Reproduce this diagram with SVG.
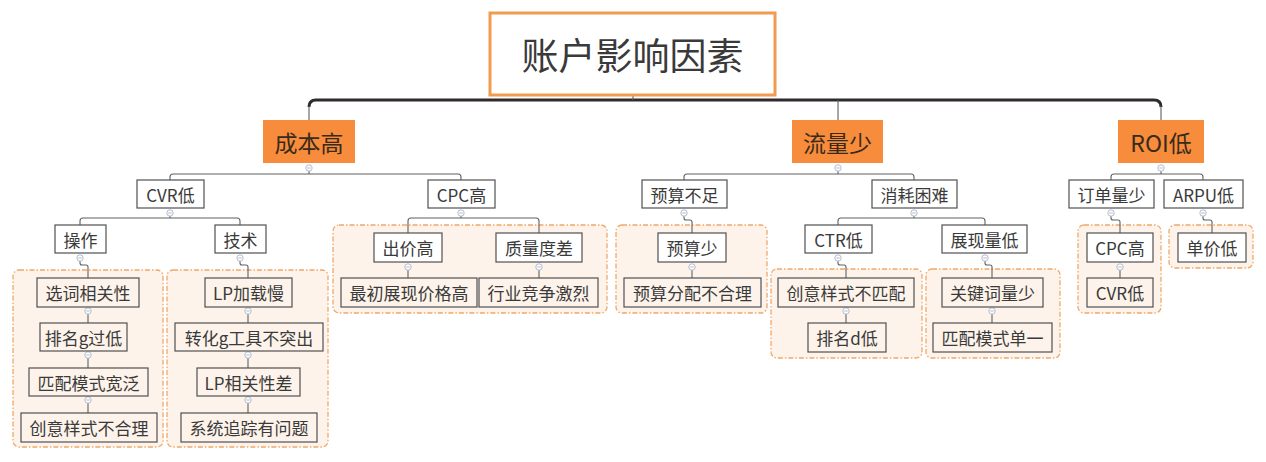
<svg xmlns="http://www.w3.org/2000/svg" width="1266" height="462" viewBox="0 0 1266 462">
<style>
text{font-family:"Noto Sans CJK SC","Noto Sans",sans-serif;fill:#3a3a3a;text-anchor:middle;dominant-baseline:central}
.n rect{fill:#fff;stroke:#505050;stroke-width:1.2}
.gn rect{fill:#fdf3ea;stroke:#505050;stroke-width:1.2}
.n text,.gn text{font-size:17px}
.l1 rect{fill:#f68c3c;stroke:none}
.l1 text{font-size:23px;fill:#3a2a1a}
.grp{fill:#fdf3ea;stroke:#f0a868;stroke-width:1.3;stroke-dasharray:5 2 1.5 2}
.c{fill:none;stroke:#606060;stroke-width:1.1;stroke-linejoin:round}
.cc{fill:#fff;stroke:#a9b3c8;stroke-width:0.9}
.cm{stroke:#a9b3c8;stroke-width:0.9}
</style>
<defs>
<g id="col"><circle class="cc" r="3.2"/><line class="cm" x1="-1.8" y1="0" x2="1.8" y2="0"/></g>
</defs>
<g id="groups">
<rect class="grp" x="13" y="270" width="150" height="177" rx="6"/>
<rect class="grp" x="167" y="270" width="161" height="177" rx="6"/>
<rect class="grp" x="333" y="225" width="274" height="88" rx="6"/>
<rect class="grp" x="616" y="225" width="151" height="88" rx="6"/>
<rect class="grp" x="771" y="269" width="151" height="89" rx="6"/>
<rect class="grp" x="926" y="269" width="134" height="89" rx="6"/>
<rect class="grp" x="1078" y="225" width="83" height="88" rx="6"/>
<rect class="grp" x="1169" y="225" width="84" height="43" rx="6"/>
</g>
<g id="connectors">
<path d="M309 107 Q309 100 316 100 H1154 Q1161 100 1161 107" fill="none" stroke="#2e2a2e" stroke-width="3"/>
<path class="c" d="M633 95 V100 M309 106 V120 M838 100 V120 M1161 106 V120"/>
<path class="c" d="M309 171 V174 M170 180 V177 Q170 174 173 174 H458 Q461 174 461 177 V180"/>
<path class="c" d="M170 216 V218 M80 225 V221 Q80 218 83 218 H237 Q240 218 240 221 V225"/>
<path class="c" d="M80 261 V263 Q80 265 82 265 H86 Q88 265 88 267 V278"/>
<path class="c" d="M240 261 V263 Q240 265 242 265 H246 Q248 265 248 267 V278"/>
<path class="c" d="M88 314 V323 M88 354 V368 M88 399 V413"/>
<path class="c" d="M248 314 V323 M248 354 V368 M248 399 V413"/>
<path class="c" d="M461 216 V218 M408 233 V221 Q408 218 411 218 H536 Q539 218 539 221 V233"/>
<path class="c" d="M408 270 V278 M539 270 V278"/>
<path class="c" d="M838 171 V174 M684 180 V177 Q684 174 687 174 H911 Q914 174 914 177 V180"/>
<path class="c" d="M684 216 V218 Q684 220 686 220 H690 Q692 220 692 222 V233"/>
<path class="c" d="M692 270 V278"/>
<path class="c" d="M914 216 V218 M838 225 V221 Q838 218 841 218 H982 Q985 218 985 221 V225"/>
<path class="c" d="M838 261 V263 Q838 265 840 265 H844 Q846 265 846 267 V278"/>
<path class="c" d="M846 314 V323"/>
<path class="c" d="M985 261 V263 Q985 265 987 265 H990 Q992 265 992 267 V278"/>
<path class="c" d="M992 314 V323"/>
<path class="c" d="M1161 171 V174 M1111 180 V177 Q1111 174 1114 174 H1200 Q1203 174 1203 177 V180"/>
<path class="c" d="M1111 216 V218 Q1111 220 1113 220 H1118 Q1120 220 1120 222 V233"/>
<path class="c" d="M1120 270 V278"/>
<path class="c" d="M1203 216 V218 Q1203 220 1205 220 H1210 Q1212 220 1212 222 V233"/>
<use href="#col" x="309" y="168"/><use href="#col" x="838" y="168"/><use href="#col" x="1161" y="168"/>
<use href="#col" x="170" y="213"/><use href="#col" x="461" y="213"/><use href="#col" x="684" y="213"/><use href="#col" x="914" y="213"/><use href="#col" x="1111" y="213"/><use href="#col" x="1203" y="213"/>
<use href="#col" x="80" y="258"/><use href="#col" x="240" y="258"/><use href="#col" x="838" y="258"/><use href="#col" x="985" y="258"/>
<use href="#col" x="408" y="267"/><use href="#col" x="539" y="267"/><use href="#col" x="692" y="267"/><use href="#col" x="1120" y="267"/>
<use href="#col" x="88" y="311"/><use href="#col" x="88" y="355"/><use href="#col" x="88" y="400"/>
<use href="#col" x="248" y="311"/><use href="#col" x="248" y="355"/><use href="#col" x="248" y="400"/>
<use href="#col" x="846" y="311"/><use href="#col" x="992" y="311"/>
</g>
<g id="root"><rect x="490" y="13" width="285" height="82" fill="#fff" stroke="#f29a4e" stroke-width="3"/><text x="632.5" y="54" font-size="37">账户影响因素</text></g>
<g id="n-chengben" class="l1"><rect x="263" y="120" width="92" height="43"/><text x="309" y="141.5">成本高</text></g>
<g id="n-liuliang" class="l1"><rect x="792" y="120" width="91" height="43"/><text x="837.5" y="141.5">流量少</text></g>
<g id="n-roi" class="l1"><rect x="1118" y="120" width="86" height="43"/><text x="1161" y="141.5">ROI低</text></g>
<g id="n-cvr" class="n"><rect x="137" y="180" width="67" height="28"/><text x="170.5" y="194">CVR低</text></g>
<g id="n-cpc" class="n"><rect x="428" y="180" width="67" height="28"/><text x="461.5" y="194">CPC高</text></g>
<g id="n-yusuanbuzu" class="n"><rect x="642" y="180" width="85" height="28"/><text x="684.5" y="194">预算不足</text></g>
<g id="n-xiaohao" class="n"><rect x="872" y="180" width="85" height="28"/><text x="914.5" y="194">消耗困难</text></g>
<g id="n-dingdan" class="n"><rect x="1069" y="180" width="85" height="28"/><text x="1111.5" y="194">订单量少</text></g>
<g id="n-arpu" class="n"><rect x="1164" y="180" width="79" height="28"/><text x="1203.5" y="194">ARPU低</text></g>
<g id="n-caozuo" class="n"><rect x="55" y="225" width="51" height="28"/><text x="80.5" y="239">操作</text></g>
<g id="n-jishu" class="n"><rect x="215" y="225" width="51" height="28"/><text x="240.5" y="239">技术</text></g>
<g id="n-chujia" class="n"><rect x="374" y="233" width="68" height="29"/><text x="408" y="247.5">出价高</text></g>
<g id="n-zhiliang" class="n"><rect x="496" y="233" width="86" height="29"/><text x="539" y="247.5">质量度差</text></g>
<g id="n-yusuanshao" class="n"><rect x="658" y="233" width="68" height="29"/><text x="692" y="247.5">预算少</text></g>
<g id="n-ctr" class="n"><rect x="805" y="225" width="67" height="28"/><text x="838.5" y="239">CTR低</text></g>
<g id="n-zhanxian" class="n"><rect x="942" y="225" width="85" height="28"/><text x="984.5" y="239">展现量低</text></g>
<g id="n-cpc2" class="n"><rect x="1087" y="233" width="66" height="29"/><text x="1120" y="247.5">CPC高</text></g>
<g id="n-danjia" class="n"><rect x="1178" y="233" width="68" height="29"/><text x="1212" y="247.5">单价低</text></g>
<g id="n-xuanci" class="gn"><rect x="37" y="278" width="102" height="29"/><text x="88" y="292.5">选词相关性</text></g>
<g id="n-paiming" class="gn"><rect x="40" y="323" width="87" height="28"/><text x="83.5" y="337">排名g过低</text></g>
<g id="n-pipeikuan" class="gn"><rect x="29" y="368" width="119" height="28"/><text x="88.5" y="382">匹配模式宽泛</text></g>
<g id="n-chuangyi" class="gn"><rect x="21" y="413" width="136" height="29"/><text x="89" y="427.5">创意样式不合理</text></g>
<g id="n-lpjiazai" class="gn"><rect x="205" y="278" width="87" height="29"/><text x="248.5" y="292.5">LP加载慢</text></g>
<g id="n-zhuanhua" class="gn"><rect x="175" y="323" width="148" height="28"/><text x="249" y="337">转化g工具不突出</text></g>
<g id="n-lpxiangguan" class="gn"><rect x="197" y="368" width="103" height="28"/><text x="248.5" y="382">LP相关性差</text></g>
<g id="n-xitong" class="gn"><rect x="181" y="413" width="136" height="29"/><text x="249" y="427.5">系统追踪有问题</text></g>
<g id="n-zuichu" class="gn"><rect x="341" y="278" width="136" height="29"/><text x="409" y="292.5">最初展现价格高</text></g>
<g id="n-hangye" class="gn"><rect x="479" y="278" width="119" height="29"/><text x="538.5" y="292.5">行业竞争激烈</text></g>
<g id="n-fenpei" class="gn"><rect x="624" y="278" width="137" height="29"/><text x="692.5" y="292.5">预算分配不合理</text></g>
<g id="n-cvr2" class="gn"><rect x="1087" y="278" width="66" height="29"/><text x="1120" y="292.5">CVR低</text></g>
<g id="n-chuangyipipei" class="gn"><rect x="778" y="278" width="136" height="29"/><text x="846" y="292.5">创意样式不匹配</text></g>
<g id="n-paimingd" class="gn"><rect x="808" y="323" width="78" height="29"/><text x="847" y="337.5">排名d低</text></g>
<g id="n-guanjianci" class="gn"><rect x="942" y="278" width="101" height="29"/><text x="992.5" y="292.5">关键词量少</text></g>
<g id="n-pipeidanyi" class="gn"><rect x="933" y="323" width="119" height="29"/><text x="992.5" y="337.5">匹配模式单一</text></g>
</svg>
